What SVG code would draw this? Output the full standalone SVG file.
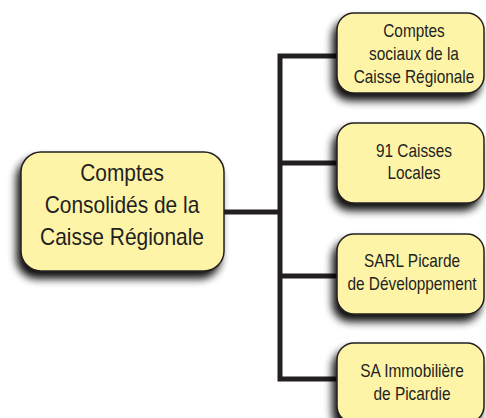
<svg xmlns="http://www.w3.org/2000/svg" width="486" height="418" viewBox="0 0 486 418">
<defs>
<filter id="sh" x="-30%" y="-30%" width="160%" height="170%">
<feGaussianBlur in="SourceAlpha" stdDeviation="4"/>
<feOffset dx="-4" dy="7" result="b"/>
<feComponentTransfer><feFuncA type="linear" slope="0.95"/></feComponentTransfer>
<feMerge><feMergeNode/><feMergeNode in="SourceGraphic"/></feMerge>
</filter>
</defs>
<style>
.box{fill:#fef4a8;stroke:#231f20;stroke-width:1.5;filter:url(#sh)}
.t{font-family:"Liberation Sans",Arial,sans-serif;fill:#231f20;text-anchor:middle}
.big{font-size:23px}
.sm{font-size:17.5px}
.con{stroke:#231f20;stroke-width:5;fill:none;stroke-linecap:square}
</style>
<rect width="486" height="418" fill="#ffffff"/>
<g id="connectors">
<path class="con" d="M224 212H280M280 56V379M280 56H337M280 163H337M280 276H337M280 379H337"/>
</g>
<g id="main">
<rect class="box" x="21" y="152" width="203" height="119" rx="20"/>
<g transform="translate(122,0) scale(0.91,1)">
<text class="t big" x="0" y="181">Comptes</text>
<text class="t big" x="0" y="213">Consolidés de la</text>
<text class="t big" x="0" y="245">Caisse Régionale</text>
</g>
</g>
<g id="n1">
<rect class="box" x="337" y="13" width="147" height="80" rx="17"/>
<g transform="translate(414,0) scale(0.88,1)">
<text class="t sm" x="0" y="37">Comptes</text>
<text class="t sm" x="0" y="60">sociaux de la</text>
<text class="t sm" x="0" y="83">Caisse Régionale</text>
</g>
</g>
<g id="n2">
<rect class="box" x="337" y="123" width="147" height="80" rx="17"/>
<g transform="translate(414,0) scale(0.88,1)">
<text class="t sm" x="0" y="157">91 Caisses</text>
<text class="t sm" x="0" y="179">Locales</text>
</g>
</g>
<g id="n3">
<rect class="box" x="337" y="234" width="147" height="80" rx="17"/>
<g transform="translate(412,0) scale(0.88,1)">
<text class="t sm" x="0" y="267">SARL Picarde</text>
<text class="t sm" x="0" y="290">de Développement</text>
</g>
</g>
<g id="n4">
<rect class="box" x="337" y="343" width="147" height="80" rx="17"/>
<g transform="translate(412,0) scale(0.88,1)">
<text class="t sm" x="0" y="377">SA Immobilière</text>
<text class="t sm" x="0" y="400">de Picardie</text>
</g>
</g>
</svg>
